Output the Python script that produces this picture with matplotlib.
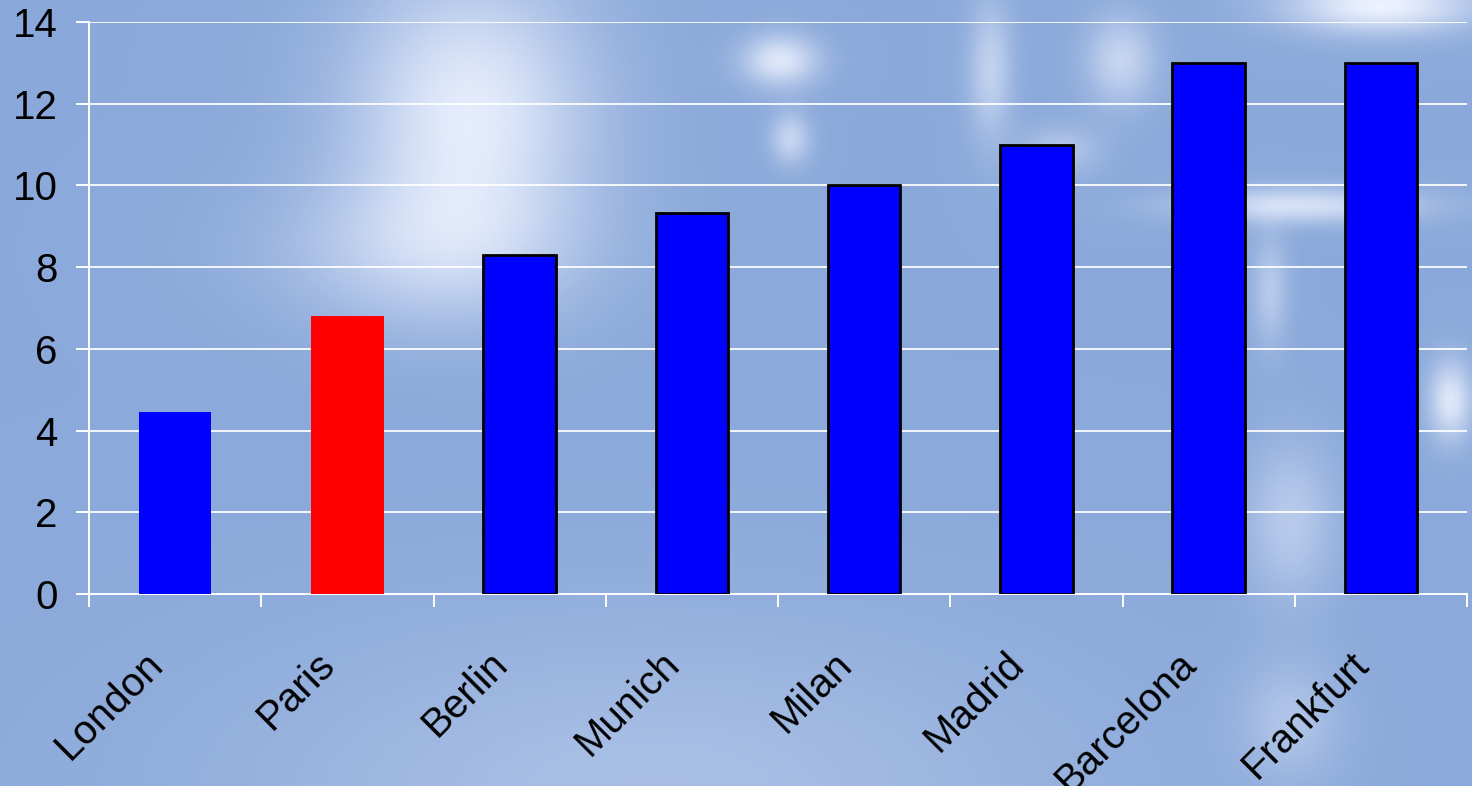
import numpy as np
import matplotlib
matplotlib.use("Agg")
import matplotlib.pyplot as plt
import matplotlib.transforms as mtransforms

# chart data
cities = ["London", "Paris", "Berlin", "Munich", "Milan", "Madrid", "Barcelona", "Frankfurt"]
values = [4.45, 6.8, 8.3, 9.33, 10.0, 11.0, 13.0, 13.0]
y_ticks = [0, 2, 4, 6, 8, 10, 12, 14]

# styling
bar_colors = ["#0000ff", "#ff0000"] + ["#0000ff"] * 6
edge_colors = ["none", "none"] + ["black"] * 6

plt.rcParams["font.family"] = ["Liberation Sans", "DejaVu Sans"]

W, H = 1472, 786
fig = plt.figure(figsize=(W / 100, H / 100), dpi=100)

# sky-like background (decoration only)
yy, xx = np.mgrid[0:H, 0:W]
base = np.array([0.545, 0.663, 0.855])
light = np.array([0.93, 0.95, 1.0])
glow = np.zeros((H, W))
# lighter lower-left region
glow += 0.30 * np.exp(-(((xx - 650) / 420) ** 2 + ((yy - 790) / 170) ** 2))
blobs = [
    (470, 110, 120, 140, 0.9),
    (430, 250, 150, 75, 0.5),
    (780, 60, 38, 26, 0.85),
    (790, 138, 20, 26, 0.6),
    (1380, 5, 95, 28, 1.0),
    (990, 70, 22, 70, 0.55),
    (1120, 60, 35, 45, 0.6),
    (1060, 150, 40, 25, 0.4),
    (1300, 205, 120, 18, 0.75),
    (1270, 290, 18, 55, 0.45),
    (1450, 400, 22, 40, 0.85),
    (1290, 520, 45, 80, 0.45),
    (1290, 720, 50, 60, 0.35),
]
for cx, cy, sx, sy, a in blobs:
    glow += a * np.exp(-(((xx - cx) / sx) ** 2 + ((yy - cy) / sy) ** 2))
glow = np.clip(glow, 0, 1)[..., None]
bg = base * (1 - glow) + light * glow
bg_ax = fig.add_axes([0, 0, 1, 1], zorder=-1)
bg_ax.imshow(bg, aspect="auto", interpolation="bilinear")
bg_ax.axis("off")

ax = fig.add_axes([89 / W, (H - 594) / H, (1467 - 89) / W, (594 - 22) / H])
ax.set_facecolor("none")

x = np.arange(len(cities))
ax.bar(x, values, width=0.42, color=bar_colors, edgecolor=edge_colors,
       linewidth=2.0, zorder=3)

ax.set_xlim(-0.5, len(cities) - 0.5)
ax.set_ylim(0, 14)
ax.set_yticks(y_ticks)
ax.set_yticklabels([str(v) for v in y_ticks], fontsize=29)
ax.grid(axis="y", color="white", linewidth=1.4, alpha=0.9, zorder=1)

# category labels at centres, boundary ticks as minor ticks
ax.set_xticks(x)
ax.set_xticklabels(cities, fontsize=29, rotation=45, ha="right",
                   va="center", rotation_mode="anchor")
ax.set_xticks(np.arange(len(cities) + 1) - 0.5, minor=True)
ax.tick_params(axis="x", which="major", length=0, pad=46)
ax.tick_params(axis="x", which="minor", length=9.5, width=1.4, color="white")
ax.tick_params(axis="y", length=9.5, width=1.4, color="white", pad=13)

shift = mtransforms.ScaledTranslation(-0.18, 0, fig.dpi_scale_trans)
for lbl in ax.get_xticklabels():
    lbl.set_transform(lbl.get_transform() + shift)

for side in ["top", "right"]:
    ax.spines[side].set_visible(False)
ax.spines["left"].set_color("white")
ax.spines["left"].set_linewidth(1.4)
ax.spines["bottom"].set_color("white")
ax.spines["bottom"].set_linewidth(1.4)

fig.savefig("out.png", dpi=100)
